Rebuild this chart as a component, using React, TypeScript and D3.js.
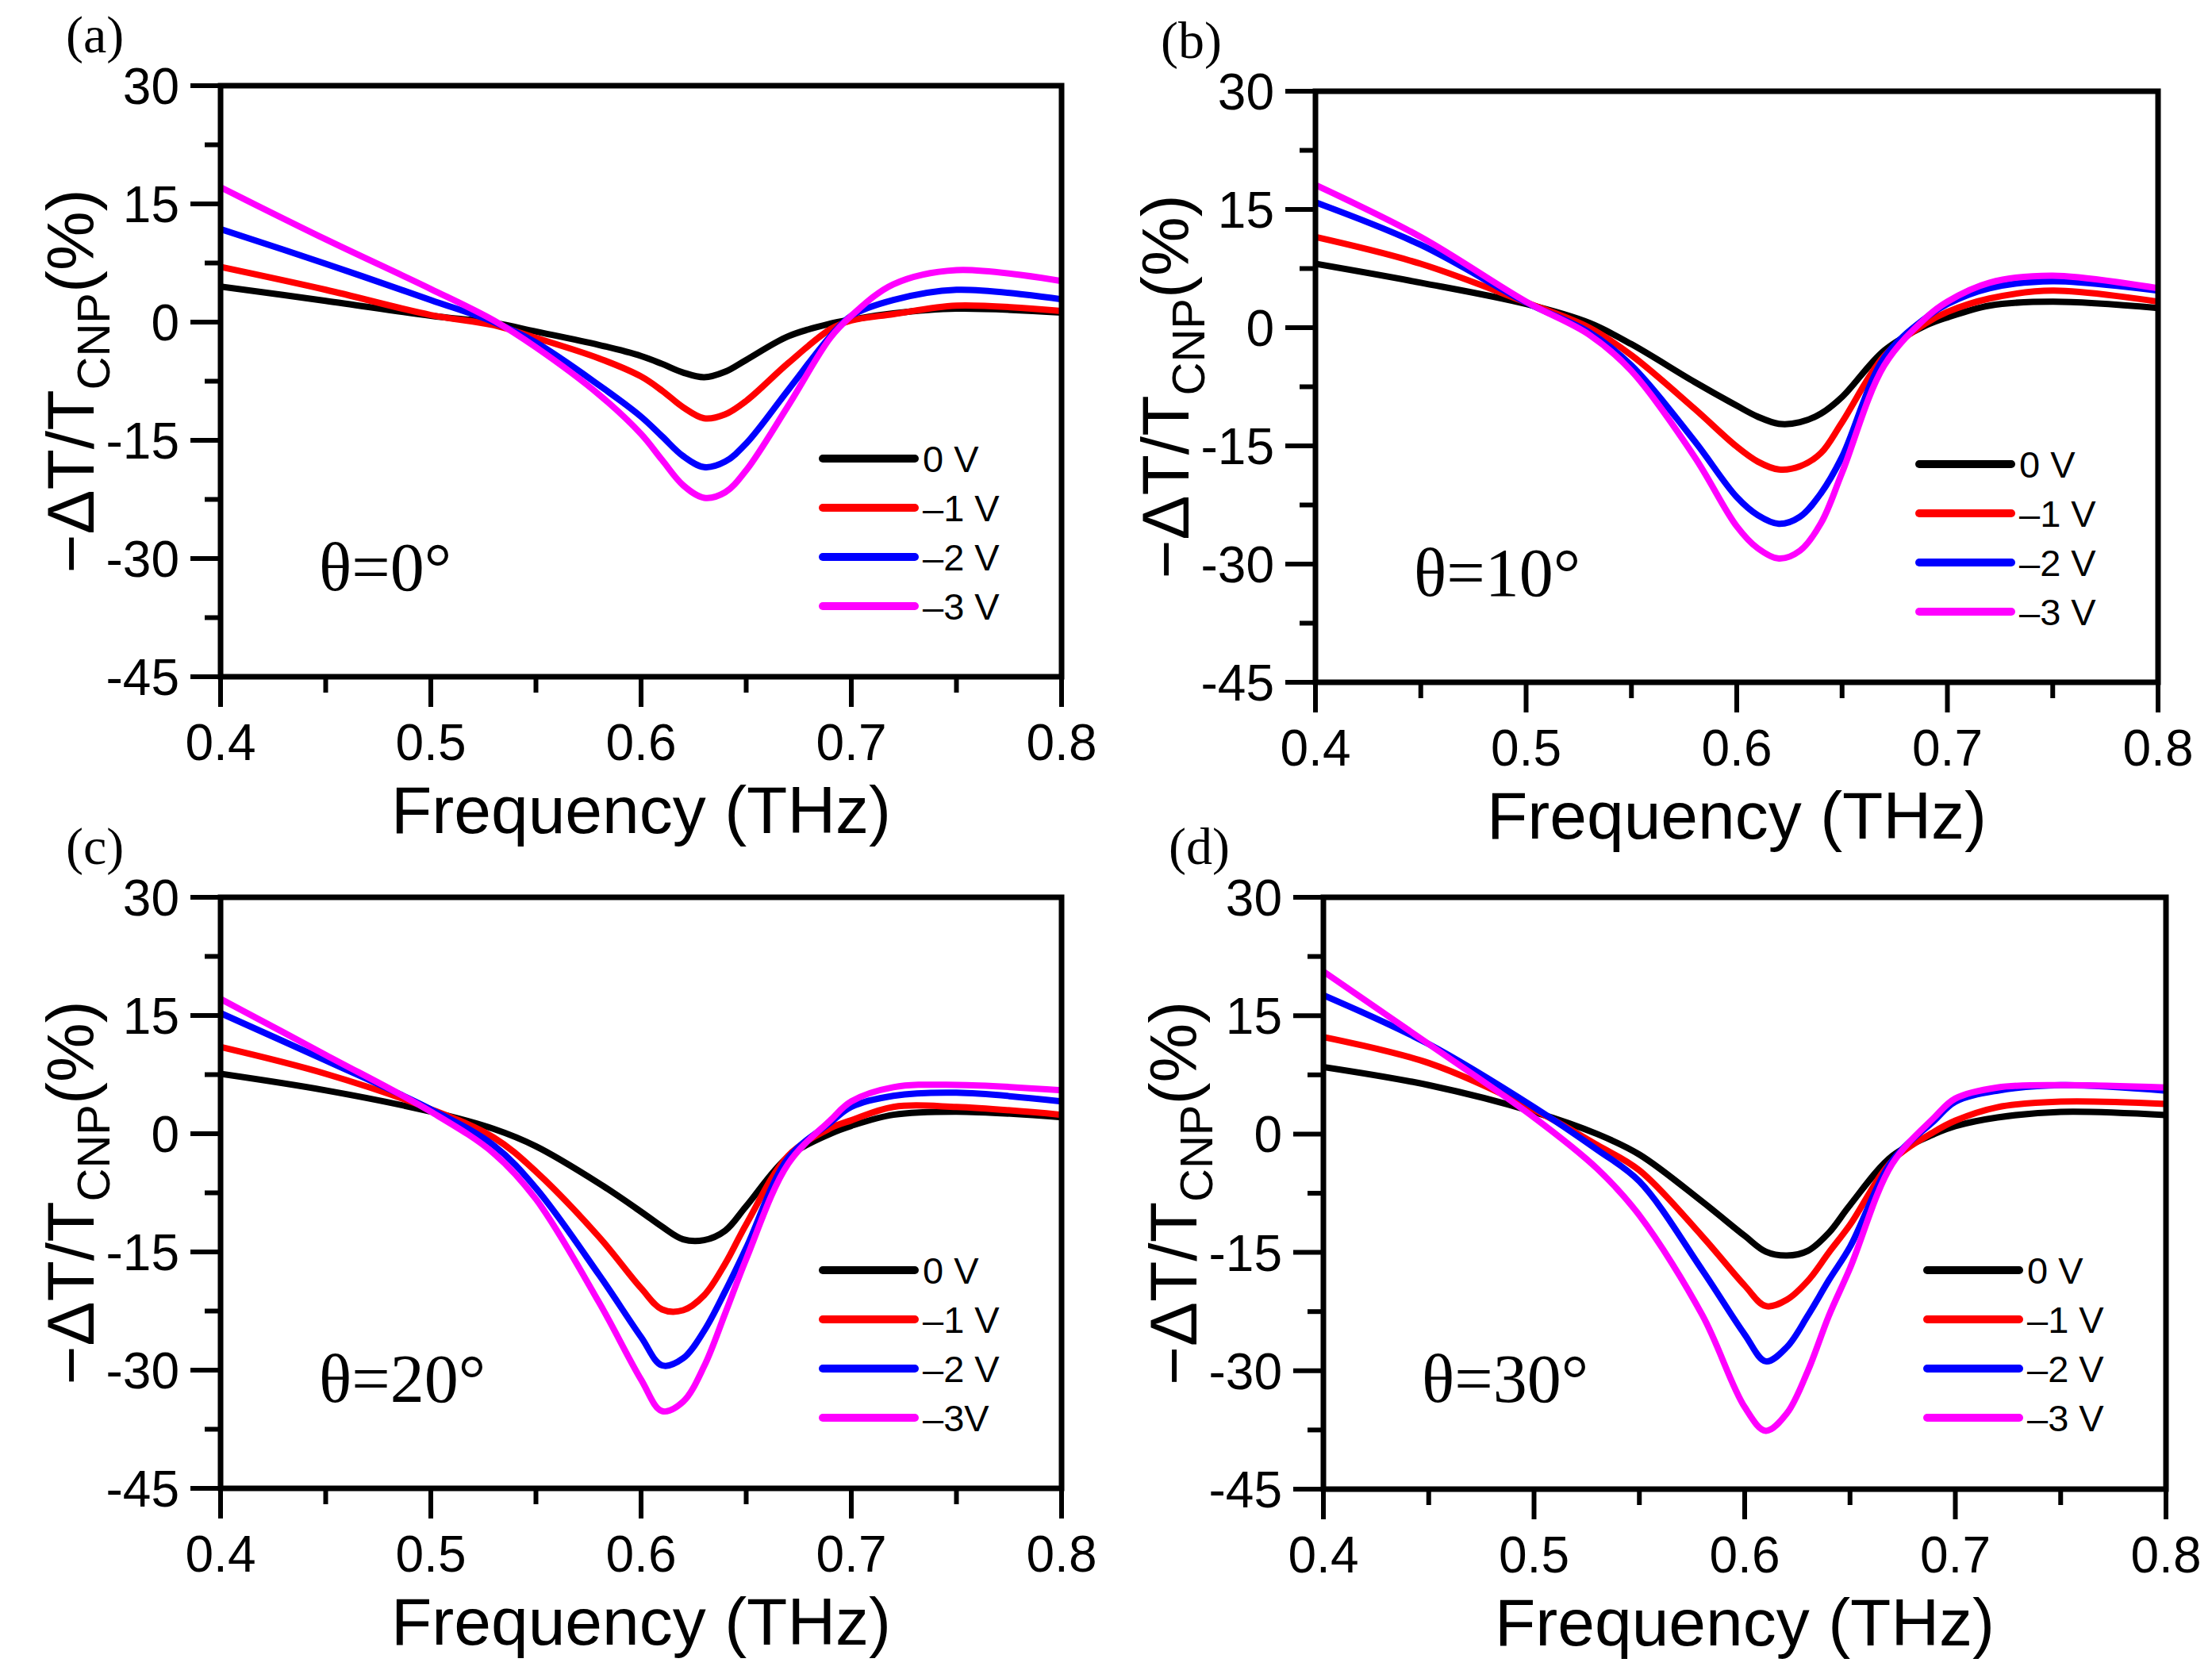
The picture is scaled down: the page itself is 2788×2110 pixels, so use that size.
import React from "react";
import * as d3 from "d3";

// ---------- data ----------
const freq = [0.40, 0.45, 0.50, 0.53, 0.55, 0.58, 0.60, 0.61, 0.62, 0.63, 0.64, 0.65, 0.67, 0.69, 0.70, 0.72, 0.75, 0.80];

const seriesLabels = ["0 V", "\u20131 V", "\u20132 V", "\u20133 V"];
const seriesLabelsC = ["0 V", "\u20131 V", "\u20132 V", "\u20133V"];
const seriesColors = ["#000000", "#ff0000", "#0000ff", "#ff00ff"];

// (a) theta = 0
const a0V = [4.5, 2.7, 0.8, -0.1, -1.2, -2.9, -4.3, -5.3, -6.4, -7.0, -6.3, -4.8, -1.8, -0.2, 0.3, 1.1, 1.7, 1.2];
const a1V = [7.0, 4.1, 0.9, -0.4, -2.0, -4.6, -6.9, -8.7, -10.8, -12.2, -11.7, -10.0, -5.2, -0.9, 0.2, 1.0, 2.1, 1.4];
const a2V = [11.8, 7.4, 2.8, 0.0, -2.6, -8.0, -12.0, -14.5, -17.0, -18.4, -17.7, -15.4, -8.6, -1.8, 0.8, 2.8, 4.1, 2.9];
const a3V = [17.1, 10.5, 4.2, 0.2, -3.2, -9.2, -14.2, -17.5, -20.7, -22.3, -21.6, -18.8, -10.6, -2.0, 0.8, 4.8, 6.6, 5.2];

// (b) theta = 10
const b0V = [8.1, 5.7, 3.0, 0.6, -2.1, -6.9, -9.9, -11.3, -12.2, -12.0, -10.9, -8.8, -2.9, 0.3, 1.3, 2.8, 3.3, 2.5];
const b1V = [11.5, 8.1, 3.2, 0.0, -3.5, -10.3, -15.1, -17.0, -18.0, -17.6, -15.9, -12.0, -3.6, 0.6, 2.0, 3.7, 4.7, 3.3];
const b2V = [15.9, 10.5, 3.2, -0.6, -4.8, -14.4, -21.5, -23.8, -24.9, -24.0, -21.0, -16.4, -3.8, 1.3, 3.0, 5.0, 5.9, 4.7];
const b3V = [18.1, 11.5, 3.3, -0.9, -5.5, -16.4, -25.2, -28.0, -29.3, -28.3, -24.8, -18.4, -4.8, 1.3, 3.3, 5.7, 6.6, 5.0];

// (c) theta = 20
const c0V = [7.6, 5.5, 2.8, 0.6, -1.6, -6.3, -9.9, -11.8, -13.4, -13.5, -12.3, -9.2, -2.9, 0.0, 1.0, 2.4, 2.8, 2.1];
const c1V = [11.0, 7.6, 3.1, -0.5, -4.8, -13.1, -19.6, -22.3, -22.4, -20.5, -16.5, -11.5, -2.8, 0.7, 1.7, 3.4, 3.4, 2.4];
const c2V = [15.3, 9.3, 3.1, -1.5, -6.9, -17.9, -25.8, -29.4, -28.5, -25.0, -20.0, -14.5, -3.1, 1.4, 3.4, 4.8, 5.2, 4.1];
const c3V = [17.1, 10.0, 2.8, -2.5, -8.3, -21.4, -31.2, -35.2, -34.0, -29.5, -22.8, -15.9, -3.8, 1.7, 4.1, 5.9, 6.2, 5.5];

// (d) theta = 30
const d0V = [8.5, 6.2, 2.8, 0.0, -2.6, -8.6, -12.9, -14.9, -15.4, -14.8, -12.5, -9.0, -2.8, 0.0, 1.0, 2.1, 2.8, 2.4];
const d1V = [12.3, 9.0, 3.1, -1.4, -4.6, -13.0, -19.2, -21.8, -21.0, -18.6, -15.0, -11.5, -3.4, 0.3, 1.7, 3.4, 4.1, 3.8];
const d2V = [17.6, 11.4, 3.4, -2.0, -6.0, -17.3, -25.4, -28.8, -27.0, -23.0, -18.5, -14.3, -3.4, 1.7, 4.1, 5.5, 6.2, 5.5];
const d3V = [20.6, 11.4, 2.1, -4.4, -10.3, -23.0, -34.6, -37.6, -35.4, -30.0, -23.0, -17.0, -3.8, 2.1, 4.5, 5.9, 6.2, 5.9];

const xTicks = [0.4, 0.5, 0.6, 0.7, 0.8];
const xMinorTicks = [0.45, 0.55, 0.65, 0.75];
const yTicks = [30, 15, 0, -15, -30, -45];
const yMinorTicks = [22.5, 7.5, -7.5, -22.5, -37.5];

const panelTags = ["(a)", "(b)", "(c)", "(d)"];
const angleLabels = ["\u03b8=0\u00b0", "\u03b8=10\u00b0", "\u03b8=20\u00b0", "\u03b8=30\u00b0"];
const panelSeries = [
  [a0V, a1V, a2V, a3V],
  [b0V, b1V, b2V, b3V],
  [c0V, c1V, c2V, c3V],
  [d0V, d1V, d2V, d3V],
];

// ---------- layout ----------
const W = 2788;
const H = 2110;
const boxes = [
  { left: 278, right: 1338, top: 108, bottom: 853 },
  { left: 1658, right: 2720, top: 115, bottom: 860 },
  { left: 278, right: 1338, top: 1131, bottom: 1876 },
  { left: 1668, right: 2730, top: 1131, bottom: 1877 },
];

const SANS = "'Liberation Sans', Arial, Helvetica, sans-serif";
const SERIF = "'Liberation Serif', 'Times New Roman', serif";

function Panel({ idx }: { idx: number }) {
  const b = boxes[idx];
  const x = d3.scaleLinear().domain([0.4, 0.8]).range([b.left, b.right]);
  const y = d3.scaleLinear().domain([-45, 30]).range([b.bottom, b.top]);
  const line = d3
    .line<number>()
    .x((_, i) => x(freq[i]))
    .y((v) => y(v))
    .curve(d3.curveCatmullRom.alpha(0.5));
  const series = panelSeries[idx];
  const labels = idx === 2 ? seriesLabelsC : seriesLabels;
  const cy = (b.top + b.bottom) / 2;
  const cx = (b.left + b.right) / 2;
  const ytx = b.left - 160;
  return (
    <g>
      <defs>
        <clipPath id={`clip${idx}`}>
          <rect x={b.left} y={b.top} width={b.right - b.left} height={b.bottom - b.top} />
        </clipPath>
      </defs>
      <g clipPath={`url(#clip${idx})`}>
        {series.map((s, i) => (
          <path key={i} d={line(s) || ""} fill="none" stroke={seriesColors[i]} strokeWidth={8} strokeLinejoin="round" />
        ))}
      </g>
      <rect x={b.left} y={b.top} width={b.right - b.left} height={b.bottom - b.top} fill="none" stroke="#000" strokeWidth={7} />
      {yTicks.map((t) => (
        <g key={`y${t}`}>
          <line x1={b.left - 38} x2={b.left} y1={y(t)} y2={y(t)} stroke="#000" strokeWidth={6} />
          <text x={b.left - 52} y={y(t) + 23} textAnchor="end" fontFamily={SANS} fontSize={64} fill="#000">
            {String(t)}
          </text>
        </g>
      ))}
      {yMinorTicks.map((t) => (
        <line key={`ym${t}`} x1={b.left - 20} x2={b.left} y1={y(t)} y2={y(t)} stroke="#000" strokeWidth={6} />
      ))}
      {xTicks.map((t) => (
        <g key={`x${t}`}>
          <line x1={x(t)} x2={x(t)} y1={b.bottom} y2={b.bottom + 38} stroke="#000" strokeWidth={6} />
          <text x={x(t)} y={b.bottom + 105} textAnchor="middle" fontFamily={SANS} fontSize={64} fill="#000">
            {t.toFixed(1)}
          </text>
        </g>
      ))}
      {xMinorTicks.map((t) => (
        <line key={`xm${t}`} x1={x(t)} x2={x(t)} y1={b.bottom} y2={b.bottom + 20} stroke="#000" strokeWidth={6} />
      ))}
      <text x={cx} y={b.bottom + 197} textAnchor="middle" fontFamily={SANS} fontSize={84} fill="#000">
        Frequency (THz)
      </text>
      <text
        transform={`translate(${ytx},${cy}) rotate(-90)`}
        textAnchor="middle"
        fontFamily={SANS}
        fontSize={84}
        fill="#000"
      >
        <tspan>{"\u2212\u0394T/T"}</tspan>
        <tspan fontSize={58} dy={20}>CNP</tspan>
        <tspan dy={-20}>(%)</tspan>
      </text>
      <text x={b.left - 195} y={b.top - 42} fontFamily={SERIF} fontSize={66} fill="#000">
        {panelTags[idx]}
      </text>
      <text x={b.left + 124} y={b.top + 636} fontFamily={SERIF} fontSize={86} fill="#000">
        {angleLabels[idx]}
      </text>
      {labels.map((lab, i) => {
        const ry = b.top + 470 + i * 62;
        return (
          <g key={lab}>
            <line x1={b.right - 301} x2={b.right - 185} y1={ry} y2={ry} stroke={seriesColors[i]} strokeWidth={10} strokeLinecap="round" />
            <text x={b.right - 175} y={ry + 17} fontFamily={SANS} fontSize={47} fill="#000">
              {lab}
            </text>
          </g>
        );
      })}
    </g>
  );
}

export default function App() {
  return (
    <svg
      width={W}
      height={H}
      viewBox={`0 0 ${W} ${H}`}
      style={{ position: "absolute", left: 0, top: 0, background: "#fff" }}
    >
      <rect x={0} y={0} width={W} height={H} fill="#fff" />
      {[0, 1, 2, 3].map((i) => (
        <Panel key={i} idx={i} />
      ))}
    </svg>
  );
}
